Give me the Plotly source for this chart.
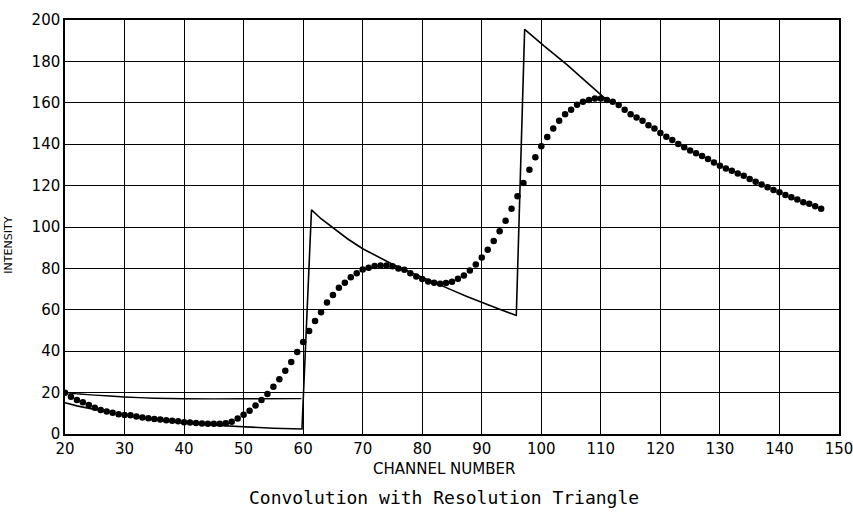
import plotly.graph_objects as go

# Measured (dotted) intensities, one per channel 20..147
channels = list(range(20, 148))
measured = [
    19.9, 18.0, 16.4, 15.3, 14.0, 12.7, 11.6, 10.9, 10.3, 9.6,
    9.2, 9.0, 8.4, 8.0, 7.6, 7.2, 7.0, 6.7, 6.4, 6.1,
    5.7, 5.5, 5.3, 5.1, 5.0, 4.9, 5.0, 5.2, 5.9, 7.5,
    9.3, 11.2, 13.8, 16.4, 19.3, 22.8, 26.5, 30.6, 34.8, 39.6,
    44.5, 49.8, 54.6, 58.8, 63.5, 67.1, 70.7, 73.1, 75.7, 77.6,
    79.5, 80.3, 81.1, 81.4, 81.4, 81.0, 80.0, 79.4, 77.6, 76.1,
    74.9, 73.7, 73.1, 72.6, 72.9, 73.6, 75.0, 76.6, 79.0, 81.9,
    85.3, 89.0, 93.2, 98.0, 103.0, 108.8, 114.9, 121.3, 127.7, 133.7,
    139.0, 143.5, 147.6, 151.3, 154.5, 156.6, 159.0, 160.5, 161.3, 162.1,
    162.1, 161.4, 160.5, 158.9, 156.6, 154.5, 152.9, 151.3, 149.2, 147.6,
    145.4, 143.6, 142.0, 140.1, 138.5, 136.9, 135.6, 134.3, 132.9, 131.2,
    129.6, 128.3, 127.2, 125.9, 124.7, 123.2, 121.9, 120.5, 119.2, 117.9,
    116.8, 115.5, 114.4, 113.3, 112.0, 111.2, 110.0, 108.8,
]

# Solid curve (sawtooth-like source spectrum)
line_x = [20, 22, 25, 27.5, 30, 35, 40, 45, 50, 55, 59.8,
          61.4, 63, 65, 67.5, 70, 72.5, 75, 77.5, 80, 82.5, 85, 87.5, 90, 93, 95.8,
          97.2, 100.4, 104.3, 107.7, 110.5, 111.5]
line_y = [15.1, 13.6, 11.8, 10.4, 9.2, 7.0, 5.3, 4.2, 3.4, 2.8, 2.4,
          108.3, 104.0, 99.5, 94.2, 89.5, 85.6, 82.0, 78.8, 75.8, 72.6, 69.5, 66.4, 63.5, 60.3, 57.3,
          195.5, 187.6, 178.4, 169.7, 162.6, 161.0]

# Upper short solid line at left
upper_x = [20, 22.5, 25, 30, 35, 40, 50, 59.7]
upper_y = [20.0, 19.3, 18.8, 17.9, 17.3, 17.0, 17.0, 17.1]

x_ticks = [20, 30, 40, 50, 60, 70, 80, 90, 100, 110, 120, 130, 140, 150]
y_ticks = [0, 20, 40, 60, 80, 100, 120, 140, 160, 180, 200]

fig = go.Figure()
fig.add_trace(go.Scatter(x=upper_x, y=upper_y, mode="lines",
                         line=dict(color="black", width=1.4, shape="spline", smoothing=0.6),
                         showlegend=False))
fig.add_trace(go.Scatter(x=line_x, y=line_y, mode="lines",
                         line=dict(color="black", width=1.6), showlegend=False))
fig.add_trace(go.Scatter(x=channels, y=measured, mode="markers",
                         marker=dict(color="black", size=6.5), showlegend=False))

tick_font = dict(family="DejaVu Sans", size=15, color="black")

fig.update_layout(
    width=853, height=514,
    margin=dict(l=65, r=14, t=20, b=80),
    paper_bgcolor="white", plot_bgcolor="white",
    xaxis=dict(range=[20, 150], tickvals=x_ticks, ticktext=[str(v) for v in x_ticks],
               showgrid=True, gridcolor="black", gridwidth=1.2, automargin=False,
               ticklabeloverflow="allow",
               showline=True, linecolor="black", linewidth=1.5, mirror=True,
               zeroline=False, ticks="", tickfont=tick_font),
    yaxis=dict(range=[0, 200], tickvals=y_ticks, ticktext=[str(v) for v in y_ticks],
               showgrid=True, gridcolor="black", gridwidth=1.2, automargin=False,
               ticklabeloverflow="allow",
               showline=True, linecolor="black", linewidth=1.5, mirror=True,
               zeroline=False, ticks="", tickfont=tick_font),
    annotations=[
        dict(text="CHANNEL NUMBER", xref="paper", yref="paper", x=0.49, y=0,
             yshift=-35, showarrow=False, xanchor="center", yanchor="middle",
             font=dict(family="DejaVu Sans", size=15, color="black")),
        dict(text="INTENSITY", xref="paper", yref="paper", x=0, y=0.455,
             xshift=-56, textangle=-90, showarrow=False, xanchor="center", yanchor="middle",
             font=dict(family="DejaVu Sans", size=11, color="black")),
        dict(text="Convolution with Resolution Triangle", xref="paper", yref="paper",
             x=0.49, y=0, yshift=-63, showarrow=False, xanchor="center", yanchor="middle",
             font=dict(family="DejaVu Sans Mono", size=18, color="black")),
    ],
)

fig.write_html("out.html")
